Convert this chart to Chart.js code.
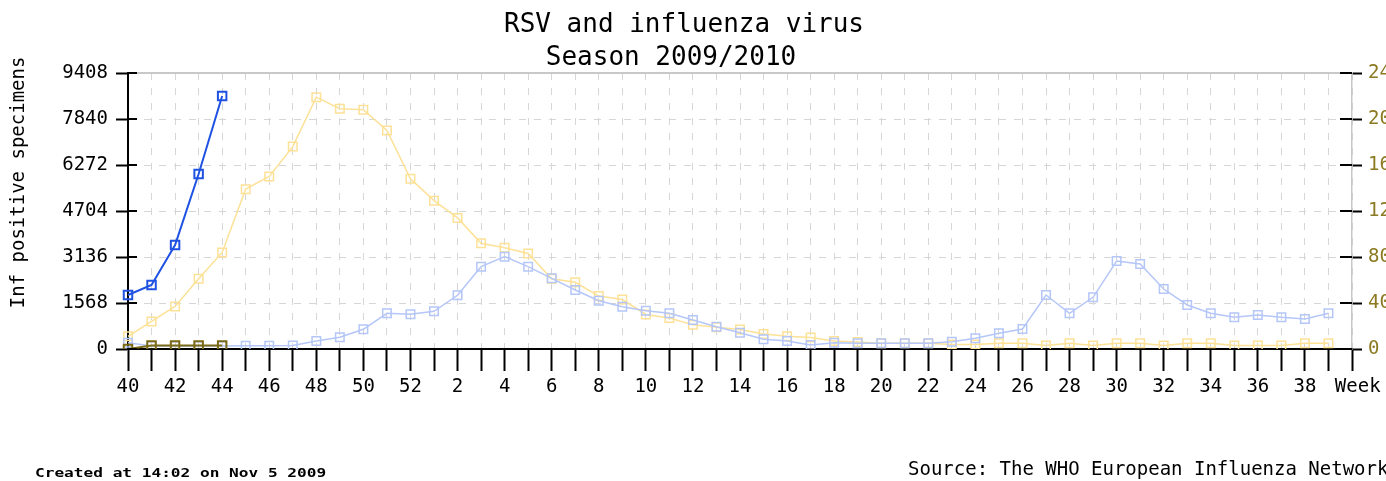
<!DOCTYPE html>
<html>
<head>
<meta charset="utf-8">
<title>RSV and influenza virus</title>
<script src="https://cdn.jsdelivr.net/npm/chart.js@4/dist/chart.umd.min.js"></script>
<style>
  html, body { margin: 0; padding: 0; background: #fff; overflow: hidden; }
</style>
</head>
<body>
<canvas id="myChart" width="1420" height="481"></canvas>
<script>
  // week numbers of the season, 40 .. 52 then 1 .. 39
  var weeks = [40, 41, 42, 43, 44, 45, 46, 47, 48, 49, 50, 51, 52,
    1, 2, 3, 4, 5, 6, 7, 8, 9, 10, 11, 12, 13, 14, 15, 16, 17, 18, 19, 20,
    21, 22, 23, 24, 25, 26, 27, 28, 29, 30, 31, 32, 33, 34, 35, 36, 37, 38, 39];
  var xLabels = weeks.concat([' Week']);

  var leftTicks = [0, 1568, 3136, 4704, 6272, 7840, 9408];
  var rightTicks = [0, 40, 80, 120, 160, 200, 240];

  // influenza, left axis
  var flu0910 = [1841, 2182, 3545, 5965, 8624];
  var flu0809 = [215, 100, 100, 100, 100, 112, 112, 120, 273, 398, 671, 1217, 1183,
    1285, 1830, 2806, 3147, 2806, 2409, 2011, 1647, 1443, 1306, 1217, 989, 761, 557,
    330, 273, 136, 215, 194, 194, 194, 194, 250, 364, 535, 682, 1841, 1217, 1762,
    3000, 2897, 2045, 1500, 1217, 1080, 1159, 1080, 1023, 1217];

  // RSV, right axis
  var rsv0910 = [0, 3, 3, 3, 3];
  var rsv0809 = [11, 24, 37, 61, 84, 139, 150, 176, 219, 209, 208, 190, 148,
    129, 114, 92, 88, 83, 61, 58, 46, 43, 30, 27, 21, 19, 17, 13, 11, 10, 7, 6, 5,
    5, 5, 4, 4, 5, 5, 3, 5, 3, 5, 5, 3, 5, 5, 3, 3, 3, 5, 5];

  var titleLines = ['RSV and influenza virus', 'Season 2009/2010'];
  var createdText = 'Created at 14:02 on Nov 5 2009';
  var sourceText = 'Source: The WHO European Influenza Network';

  var mono = '"DejaVu Sans Mono", monospace';
  Chart.defaults.font.family = mono;
  Chart.defaults.color = '#000';

  function series(label, data, axis, color, width) {
    return {
      label: label,
      data: data,
      yAxisID: axis,
      borderColor: color,
      borderWidth: width,
      pointStyle: 'rect',
      pointRadius: 6,
      pointBorderWidth: width,
      pointBorderColor: color,
      pointBackgroundColor: 'rgba(0,0,0,0)',
      tension: 0,
      fill: false
    };
  }

  function plainNumber(v) {
    return String(v);
  }

  var extraBits = {
    id: 'extraBits',
    afterDraw: function(chart) {
      var c = chart.ctx;
      var a = chart.chartArea;
      c.save();
      c.strokeStyle = '#c8c8c8';
      c.lineWidth = 2;
      c.beginPath();
      c.moveTo(a.left, a.top);
      c.lineTo(a.right, a.top);
      c.stroke();

      // tick marks cross into the plot
      c.strokeStyle = '#000';
      leftTicks.forEach(function(v) {
        var py = Math.round(chart.scales.y.getPixelForValue(v));
        c.beginPath(); c.moveTo(a.left, py); c.lineTo(a.left + 9, py); c.stroke();
      });
      rightTicks.forEach(function(v) {
        var py = Math.round(chart.scales.y2.getPixelForValue(v));
        c.beginPath(); c.moveTo(a.right - 12, py); c.lineTo(a.right, py); c.stroke();
      });

      // title, two lines
      c.fillStyle = '#000';
      c.textAlign = 'center';
      c.textBaseline = 'alphabetic';
      c.font = '26px ' + mono;
      c.fillText(titleLines[0], 684, 32);
      c.fillText(titleLines[1], 671, 65);

      c.textAlign = 'left';
      c.font = 'bold 13px ' + mono;
      c.save();
      c.translate(35, 477);
      c.scale(1.24, 1);
      c.fillText(createdText, 0, 0);
      c.restore();
      c.font = '19px ' + mono;
      c.fillText(sourceText, 908, 475);
      c.restore();
    }
  };

  var ctx = document.getElementById('myChart').getContext('2d');
  this.chart = new Chart(ctx, {
    type: 'line',
    data: {
      labels: xLabels,
      datasets: [
        series('Influenza 2009/2010', flu0910, 'y', '#1f52e2', 2),
        series('RSV 2009/2010', rsv0910, 'y2', '#7b6a16', 2),
        series('Influenza 2008/2009', flu0809, 'y', '#b5c6f8', 1.5),
        series('RSV 2008/2009', rsv0809, 'y2', '#fce196', 1.5)
      ]
    },
    plugins: [extraBits],
    options: {
      responsive: false,
      animation: false,
      layout: { padding: { top: 73, left: 0, right: 0, bottom: 0 } },
      plugins: {
        legend: { display: false },
        tooltip: { enabled: false },
        title: { display: false }
      },
      scales: {
        x: {
          type: 'category',
          offset: false,
          afterFit: function(scale) { scale.height = 132; },
          grid: {
            color: '#d6d6d6',
            lineWidth: 1,
            tickColor: '#000',
            tickWidth: 2,
            tickLength: 22,
            tickBorderDash: []
          },
          border: { color: '#000', width: 2, dash: [7, 8] },
          ticks: {
            autoSkip: false,
            maxRotation: 0,
            minRotation: 0,
            padding: 5,
            font: { size: 19 },
            callback: function(v, i) {
              return i % 2 === 0 ? this.getLabelForValue(v) : '';
            }
          }
        },
        y: {
          position: 'left',
          min: leftTicks[0],
          max: leftTicks[leftTicks.length - 1],
          afterFit: function(scale) { scale.width = 128; },
          afterBuildTicks: function(scale) {
            scale.ticks = leftTicks.map(function(v) { return { value: v }; });
          },
          grid: {
            color: '#d6d6d6',
            lineWidth: 1,
            tickColor: '#000',
            tickWidth: 2,
            tickLength: 12,
            tickBorderDash: []
          },
          border: { color: '#000', width: 2, dash: [7, 8] },
          ticks: { padding: 8, font: { size: 19 }, callback: plainNumber },
          title: {
            display: true,
            text: '     Inf positive specimens',
            font: { size: 19 },
            padding: { top: 8, bottom: 0 }
          }
        },
        y2: {
          position: 'right',
          min: rightTicks[0],
          max: rightTicks[rightTicks.length - 1],
          afterFit: function(scale) { scale.width = 68; },
          afterBuildTicks: function(scale) {
            scale.ticks = rightTicks.map(function(v) { return { value: v }; });
          },
          grid: {
            drawOnChartArea: false,
            tickColor: '#000',
            tickWidth: 2,
            tickLength: 10,
            tickBorderDash: []
          },
          border: { color: '#c8c8c8', width: 1.5 },
          ticks: { padding: 6, color: '#8b7a22', font: { size: 19 }, callback: plainNumber }
        }
      }
    }
  });
</script>
</body>
</html>
